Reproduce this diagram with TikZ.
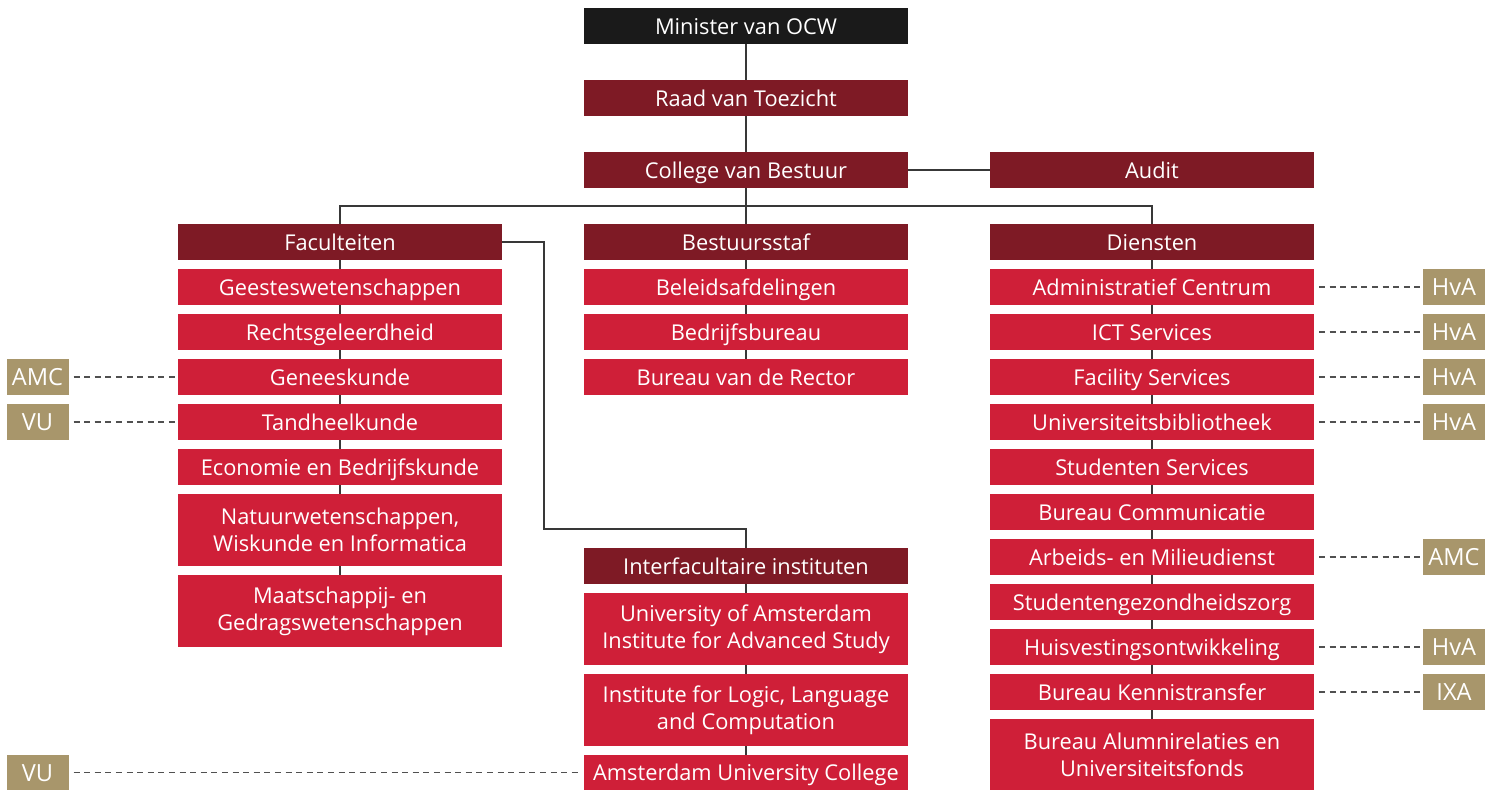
\documentclass[tikz,border=0pt]{standalone}
\usepackage{fontspec}
\setmainfont{Open Sans}
\definecolor{ocwblack}{HTML}{1A1A1A}
\definecolor{uvadark}{HTML}{7E1A25}
\definecolor{uvared}{HTML}{CF1F38}
\definecolor{partnergold}{HTML}{A8966B}
\definecolor{linegray}{HTML}{383838}
\definecolor{dashgray}{HTML}{505050}
\newcommand{\unitwidth}{162pt}
\newcommand{\unitheight}{18pt}
\tikzstyle{unit}=[fill=uvared, text=white, inner sep=0, outer sep=0, minimum width=\unitwidth, minimum height=\unitheight, align=center, text height=8.2pt, text depth=0pt, font=\fontsize{10.9}{13.4}\selectfont]
\tikzstyle{tallunit}=[unit, minimum height=36pt, text height=, text depth=]
\tikzstyle{headunit}=[unit, fill=uvadark]
\tikzstyle{topunit}=[unit, fill=ocwblack]
\tikzstyle{partner}=[unit, fill=partnergold, minimum width=31pt, text height=8.6pt, font=\fontsize{11.8}{14}\selectfont]
\tikzstyle{link}=[draw=linegray, line width=0.75pt]
\tikzstyle{sharedlink}=[draw=dashgray, line width=0.75pt, dash pattern=on 3pt off 2.3pt, shorten <=2.5pt, shorten >=1pt]
\tikzstyle{orgchart}=[x=0.5pt, y=-0.5pt,
                      % Picture size of the reference, in pixels.
                      execute at begin picture={\useasboundingbox (0, 0) rectangle (1494, 789);}]

\begin{document}
\begin{tikzpicture}[orgchart]
        \node[topunit]  (min)  at (746, 26)  {Minister van OCW};
        \node[headunit] (raad) at (746, 98)  {Raad van Toezicht};
        \node[headunit] (coll) at (746, 170) {College van Bestuur};
        \node[headunit] (aud)  at (1152, 170) {Audit};
        \coordinate     (bus)  at (746, 206);
        % Faculteiten
        \node[headunit]  (fac)  at (340, 242) {Faculteiten};
        \node[unit]      (fac1) at (340, 287) {Geesteswetenschappen};
        \node[unit]      (fac2) at (340, 332) {Rechtsgeleerdheid};
        \node[unit]      (fac3) at (340, 377) {Geneeskunde};
        \node[unit]      (fac4) at (340, 422) {Tandheelkunde};
        \node[unit]      (fac5) at (340, 467) {Economie en Bedrijfskunde};
        \node[tallunit]  (fac6) at (340, 530) {Natuurwetenschappen,\\Wiskunde en Informatica};
        \node[tallunit]  (fac7) at (340, 611) {Maatschappij- en\\Gedragswetenschappen};
        % Bestuursstaf
        \node[headunit]  (staf)  at (746, 242) {Bestuursstaf};
        \node[unit]      (staf1) at (746, 287) {Beleidsafdelingen};
        \node[unit]      (staf2) at (746, 332) {Bedrijfsbureau};
        \node[unit]      (staf3) at (746, 377) {Bureau van de Rector};
        % Interfacultaire instituten
        \coordinate      (knee)   at (544, 529);
        \node[headunit]  (inter)  at (746, 566)   {Interfacultaire instituten};
        \node[tallunit]  (inter1) at (746, 629)   {University of Amsterdam\\Institute for Advanced Study};
        \node[tallunit]  (inter2) at (746, 710)   {Institute for Logic, Language\\and Computation};
        \node[unit]      (inter3) at (746, 772.5) {Amsterdam University College};
        % Diensten
        \node[headunit]  (dien)   at (1152, 242) {Diensten};
        \node[unit]      (dien1)  at (1152, 287) {Administratief Centrum};
        \node[unit]      (dien2)  at (1152, 332) {ICT Services};
        \node[unit]      (dien3)  at (1152, 377) {Facility Services};
        \node[unit]      (dien4)  at (1152, 422) {Universiteitsbibliotheek};
        \node[unit]      (dien5)  at (1152, 467) {Studenten Services};
        \node[unit]      (dien6)  at (1152, 512) {Bureau Communicatie};
        \node[unit]      (dien7)  at (1152, 557) {Arbeids- en Milieudienst};
        \node[unit]      (dien8)  at (1152, 602) {Studentengezondheidszorg};
        \node[unit]      (dien9)  at (1152, 647) {Huisvestingsontwikkeling};
        \node[unit]      (dien10) at (1152, 692) {Bureau Kennistransfer};
        \node[tallunit]  (dien11) at (1152, 755) {Bureau Alumnirelaties en\\Universiteitsfonds};
        % Partners
        \node[partner] (amcL) at (37.5, 377)   {AMC};
        \node[partner] (vuL)  at (37.5, 422)   {VU};
        \node[partner] (vuB)  at (37.5, 772.5) {VU};
        \node[partner] (hva1) at (1454, 287) {HvA};
        \node[partner] (hva2) at (1454, 332) {HvA};
        \node[partner] (hva3) at (1454, 377) {HvA};
        \node[partner] (hva4) at (1454, 422) {HvA};
        \node[partner] (amcR) at (1454, 557) {AMC};
        \node[partner] (hva5) at (1454, 647) {HvA};
        \node[partner] (ixa)  at (1454, 692) {IXA};
        \draw[link] (min) -- (raad) -- (coll) -- (staf);
        \draw[link] (coll) -- (aud);
        \draw[link] (fac) |- (bus) -| (dien);
        \draw[link] (fac) -- (fac1) -- (fac2) -- (fac3) -- (fac4) -- (fac5) -- (fac6) -- (fac7);
        \draw[link] (staf) -- (staf1) -- (staf2) -- (staf3);
        \draw[link] (fac.east) -| (knee) -| (inter);
        \draw[link] (inter) -- (inter1) -- (inter2) -- (inter3);
        \draw[link] (dien) -- (dien1) -- (dien2) -- (dien3) -- (dien4) -- (dien5) -- (dien6) -- (dien7) -- (dien8) -- (dien9) -- (dien10) -- (dien11);
        \draw[sharedlink] (amcL) -- (fac3);
        \draw[sharedlink] (vuL) -- (fac4);
        \draw[sharedlink] (vuB) -- (inter3);
        \draw[sharedlink] (dien1) -- (hva1);
        \draw[sharedlink] (dien2) -- (hva2);
        \draw[sharedlink] (dien3) -- (hva3);
        \draw[sharedlink] (dien4) -- (hva4);
        \draw[sharedlink] (dien7) -- (amcR);
        \draw[sharedlink] (dien9) -- (hva5);
        \draw[sharedlink] (dien10) -- (ixa);
    \end{tikzpicture}
\end{document}
